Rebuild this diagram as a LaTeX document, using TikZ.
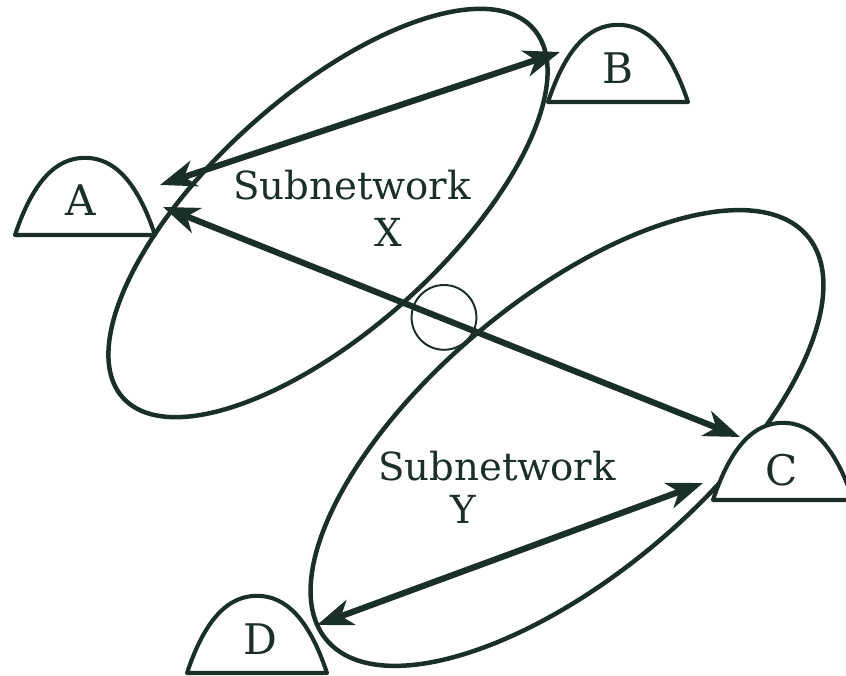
\documentclass[tikz,border=0pt]{standalone}
\usepackage{fontspec}
\setmainfont{DejaVu Serif}
\usetikzlibrary{arrows.meta}
\definecolor{NetInk}{RGB}{26,46,42}
\tikzset{
  net/ring/.style={draw=NetInk, line width=3.2pt},
  net/dome/.style={draw=NetInk, line width=2.9pt, fill=white, line join=round},
  net/mark/.style={draw=NetInk, line width=1.4pt},
  net/arrow/.style={{Stealth[length=9mm,width=6.6mm,inset=2.6mm]}-{Stealth[length=9mm,width=6.6mm,inset=2.6mm]},
    line width=4.4pt, draw=NetInk, fill=NetInk},
  net/host/.style={font=\fontsize{30}{32}\selectfont, text=NetInk, inner sep=0pt},
  net/label/.style={font=\fontsize{27.5}{30}\selectfont, text=NetInk, inner sep=0pt},
  net/hump/.pic={
    \draw[net/dome] (-1.75,0) .. controls (-1.3,1.35) and (-0.72,1.93) .. (0,1.93)
      .. controls (0.72,1.93) and (1.3,1.35) .. (1.75,0) -- cycle;
  }
}
\begin{document}
\begin{tikzpicture}[x=1cm,y=1cm]
  \useasboundingbox (0,0) rectangle (21.15,16.875);
  % subnetworks
  \draw[net/ring, rotate around={42:(8.2,11.55)}] (8.2,11.55) ellipse [x radius=6.9, y radius=2.925];
  \draw[net/ring, rotate around={40:(14.175,5.925)}] (14.175,5.925) ellipse [x radius=7.85, y radius=3.45];
  \draw[net/mark] (11.1,8.94) circle (0.81);
  % hosts
  \pic at (2.125,11) {net/hump};
  \pic at (15.45,14.325) {net/hump};
  \pic at (19.575,4.375) {net/hump};
  \pic at (6.425,0.05) {net/hump};
  \node[net/host] (A) at (2.025,11.875) {A};
  \node[net/host] (B) at (15.45,15.175) {B};
  \node[net/host] (C) at (19.55,5.125) {C};
  \node[net/host] (D) at (6.5,0.9) {D};
  % labels
  \node[net/label] (subX) at (8.8,12.25) {Subnetwork};
  \node[net/label] (nameX) at (9.7,11.075) {X};
  \node[net/label] (subY) at (12.425,5.225) {Subnetwork};
  \node[net/label] (nameY) at (11.575,4.15) {Y};
  % links
  \coordinate (AtoB) at (4.0,12.25);
  \coordinate (BtoA) at (14.0,15.575);
  \coordinate (AtoC) at (4.075,11.7);
  \coordinate (CtoA) at (18.5,5.95);
  \coordinate (DtoC) at (7.925,1.25);
  \coordinate (CtoD) at (17.575,4.8);
  \draw[net/arrow] (AtoB) -- (BtoA);
  \draw[net/arrow] (AtoC) -- (CtoA);
  \draw[net/arrow] (DtoC) -- (CtoD);
\end{tikzpicture}
\end{document}
